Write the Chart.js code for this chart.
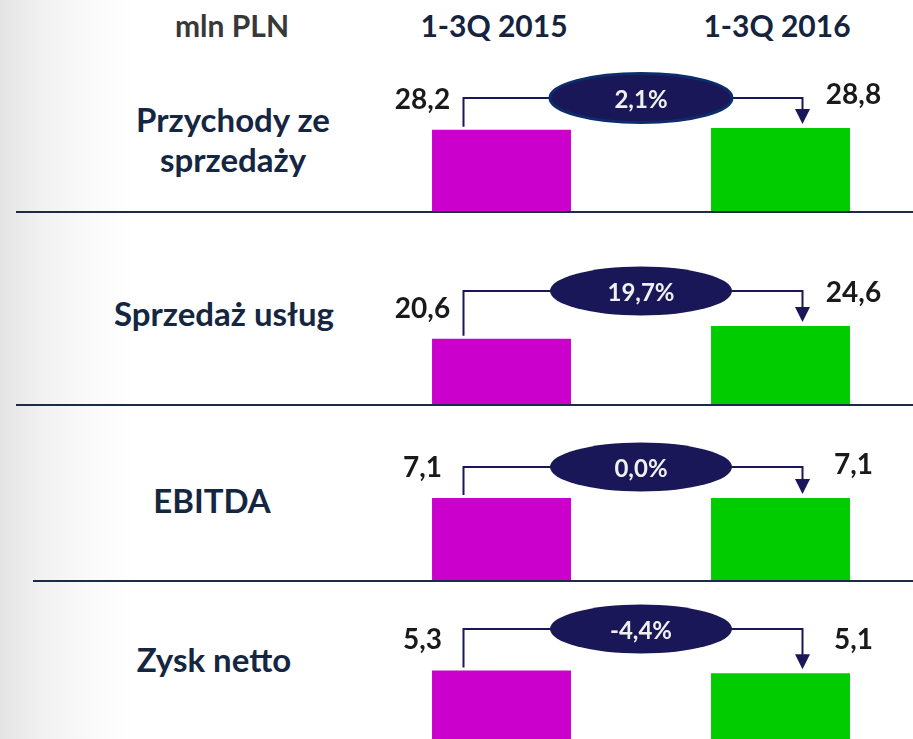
<!DOCTYPE html>
<html>
<head>
<meta charset="utf-8">
<script src="https://cdn.jsdelivr.net/npm/chart.js@4"></script>
<style>
  html, body { margin: 0; background: #fff; }
  body {
    position: relative; width: 913px; height: 739px; overflow: hidden;
    font-family: Lato, "Open Sans", sans-serif; font-weight: 700;
    background: linear-gradient(to right, #e4e4e4 0, #f2f2f2 45px, #fbfbfb 100px, #fff 135px);
  }
  .t { position: absolute; white-space: pre; text-align: center; line-height: 1; }
  .head { font-size: 30px; color: #16233f; }
  .metric { font-size: 33px; color: #152641; }
  .rule { position: absolute; right: 0; height: 2px; background: #1d2b4b; }
  canvas { position: absolute; }
</style>
</head>
<body>
<script>
// dane z wykresu (mln PLN)
const categories = ['1-3Q 2015', '1-3Q 2016'];
const metrics = ['Przychody ze\nsprzedaży', 'Sprzedaż usług', 'EBITDA', 'Zysk netto'];
const values2015 = [28.2, 20.6, 7.1, 5.3];
const values2016 = [28.8, 24.6, 7.1, 5.1];
const changes = ['2,1%', '19,7%', '0,0%', '-4,4%'];
const unitLabel = 'mln PLN';

// każdy wiersz ma własną skalę, tak jak na slajdzie
const yMax = [59, 53.6, 14.7, 12.6];
const baselines = [211, 404, 580, 742];
const ruleLeft = [16, 16, 33];
const metricX = [233, 224, 212, 214];
const metricBase = [132, 326, 513, 672];

const NAVY = '#191757';
const fmt = v => v.toFixed(1).replace('.', ',');

function addText(cls, txt, cx, top) {
  const d = document.createElement('div');
  d.className = 't ' + cls;
  d.textContent = txt;
  d.style.left = (cx - 200) + 'px';
  d.style.width = '400px';
  d.style.top = top + 'px';
  document.body.appendChild(d);
  return d;
}

// nagłówki
addText('head', unitLabel, 232, 10).style.color = '#383838';
addText('head', categories[0], 494, 10);
addText('head', categories[1], 777, 10);

// nazwy pozycji
metrics.forEach((m, i) => {
  const d = addText('metric', m, metricX[i], metricBase[i] - 29.3);
  if (m.includes('\n')) {
    d.style.lineHeight = '40px';
    d.style.top = (metricBase[i] - 32.8) + 'px';
  }
});

// linie podziału
ruleLeft.forEach((x, i) => {
  const r = document.createElement('div');
  r.className = 'rule';
  r.style.left = x + 'px';
  r.style.top = baselines[i] + 'px';
  document.body.appendChild(r);
});

const arrowPlugin = {
  id: 'arrow',
  afterDatasetsDraw(chart, args, opts) {
    const ctx = chart.ctx;
    const area = chart.chartArea;
    const bars = chart.getDatasetMeta(0).data;
    const a = bars[0], b = bars[1];
    const vals = chart.data.datasets[0].data;
    const cy = area.bottom - 113;
    const cx = (area.left + area.right) / 2;
    const x1 = a.x - 38, x2 = b.x + 22;
    ctx.save();
    // łącznik
    ctx.strokeStyle = NAVY;
    ctx.lineWidth = 2;
    ctx.beginPath();
    ctx.moveTo(x1, a.y - 3);
    ctx.lineTo(x1, cy);
    ctx.lineTo(x2, cy);
    ctx.lineTo(x2, b.y - 16);
    ctx.stroke();
    ctx.fillStyle = NAVY;
    ctx.beginPath();
    ctx.moveTo(x2 - 7.5, b.y - 19);
    ctx.lineTo(x2 + 7.5, b.y - 19);
    ctx.lineTo(x2, b.y - 4);
    ctx.closePath();
    ctx.fill();
    // elipsa ze zmianą %
    ctx.beginPath();
    ctx.ellipse(cx, cy, 91, 24.5, 0, 0, Math.PI * 2);
    ctx.fill();
    if (opts.outline) {
      ctx.strokeStyle = '#0d2c6c';
      ctx.lineWidth = 3;
      ctx.stroke();
    }
    ctx.fillStyle = '#f0f0f0';
    ctx.font = 'bold 24px Lato';
    ctx.textAlign = 'center';
    ctx.textBaseline = 'alphabetic';
    ctx.fillText(opts.text, cx, cy + 9.5);
    // wartości
    ctx.fillStyle = '#1a1a1a';
    ctx.font = 'bold 28px Lato';
    ctx.fillText(fmt(vals[0]), a.x - 79, a.y - 21);
    ctx.fillText(fmt(vals[1]), b.x + 73, b.y - 24);
    ctx.restore();
  }
};

function draw() {
  values2015.forEach((v, i) => {
    const c = document.createElement('canvas');
    c.width = 558;
    c.height = 170;
    c.style.left = '362px';
    c.style.top = (baselines[i] - 170) + 'px';
    document.body.appendChild(c);
    new Chart(c.getContext('2d'), {
      type: 'bar',
      data: {
        labels: categories,
        datasets: [{
          data: [values2015[i], values2016[i]],
          backgroundColor: ['#cc00cc', '#00cc00'],
          borderWidth: 0,
          barPercentage: 0.498,
          categoryPercentage: 1
        }]
      },
      options: {
        responsive: false,
        animation: false,
        layout: { padding: 0 },
        scales: {
          x: { display: false },
          y: { display: false, min: 0, max: yMax[i] }
        },
        plugins: {
          legend: { display: false },
          tooltip: { enabled: false },
          arrow: { text: changes[i], outline: i === 0 }
        }
      },
      plugins: [arrowPlugin]
    });
  });
}

if (document.fonts && document.fonts.load) {
  document.fonts.load('bold 28px Lato').then(draw, draw);
} else {
  draw();
}
</script>
</body>
</html>
